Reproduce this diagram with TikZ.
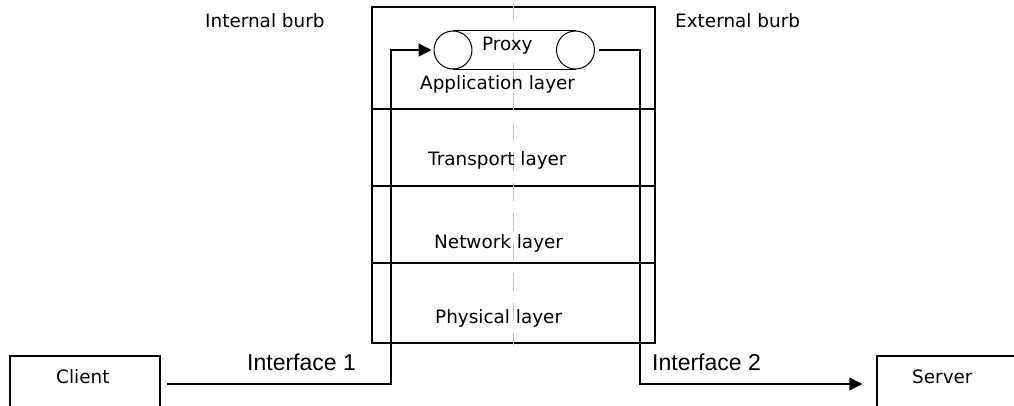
\documentclass[tikz,border=0pt]{standalone}
\usepackage{fontspec}
\usepackage{xcolor}
\usepackage{tikz}
\usetikzlibrary{arrows.meta,positioning,calc}
\setmainfont{DejaVu Sans}
\newfontfamily\ifacefont{Liberation Sans}
\definecolor{burbGray}{HTML}{C4C4C4}

\begin{document}
\begin{tikzpicture}[
    x=1pt,y=-1pt,
    >={Triangle[length=13pt,width=13pt]},
    every node/.style={font=\fontsize{18.4}{22}\selectfont},
    txt/.style ={inner sep=0pt,anchor=base west},
    iface/.style={inner sep=0pt,anchor=base west,font=\ifacefont\fontsize{23}{27}\selectfont},
    stackbox/.style={rectangle,draw,line width=1.5pt,minimum width=283pt,minimum height=336pt},
    hostbox/.style ={rectangle,draw,line width=1.5pt,minimum width=150pt,minimum height=100pt},
    pinbox/.style  ={circle,draw,line width=1pt,minimum size=38pt,inner sep=0pt},
    wire/.style={->,line width=1.5pt},
    burb/.style={burbGray,line width=1.5pt,dash pattern=on 18pt off 12pt}
  ]
  \useasboundingbox (0,0) rectangle (1014,406);
  %% The layered box with the burb divider
  \node[stackbox] (stack) at (513.5,175) {};
  \foreach \yy in {109,186,263}
    \draw[line width=1.5pt] (stack.west |- 0,\yy) -- (stack.east |- 0,\yy);
  \draw[burb] ([yshift=3pt]stack.north) -- ([yshift=-2pt]stack.south);
  \node[txt] (intburb) at (205,28) {Internal burb};
  \node[txt] (extburb) at (675,28) {External burb};
  \node[txt] (app)   at (420,90)  {Application layer};
  \node[txt] (trans) at (428,166) {Transport layer};
  \node[txt] (net)   at (434,248) {Network layer};
  \node[txt] (phys)  at (435,323) {Physical layer};
  %% The proxy
  \node[pinbox] (pinL) at (453,50) {};
  \node[pinbox] (pinR) at (575.5,50) {};
  \draw[line width=1pt] (pinL.north) -- (pinR.north);
  \draw[line width=1pt] (pinL.south) -- (pinR.south);
  \node[txt] (proxy) at (482,51) {Proxy};
  %% Bottom: client, server and the two interfaces
  \node[hostbox] (client) at (85,406) {};
  \node[hostbox] (server) at (952,406) {};
  \node[txt] (clientlab) at (56,383) {Client};
  \node[txt] (serverlab) at (912,383) {Server};
  \coordinate (wireL) at (391,384);
  \coordinate (wireR) at (640,384);
  \draw[wire,shorten <=6pt,shorten >=2pt] (client.east |- wireL) -- (wireL) |- (pinL.west);
  \draw[wire,shorten <=4pt,shorten >=14pt] (pinR.east) -| (wireR) -- (server.west |- wireR);
  \node[iface] (if1) at (247,370) {Interface 1};
  \node[iface] (if2) at (652,370) {Interface 2};
\end{tikzpicture}
\end{document}
